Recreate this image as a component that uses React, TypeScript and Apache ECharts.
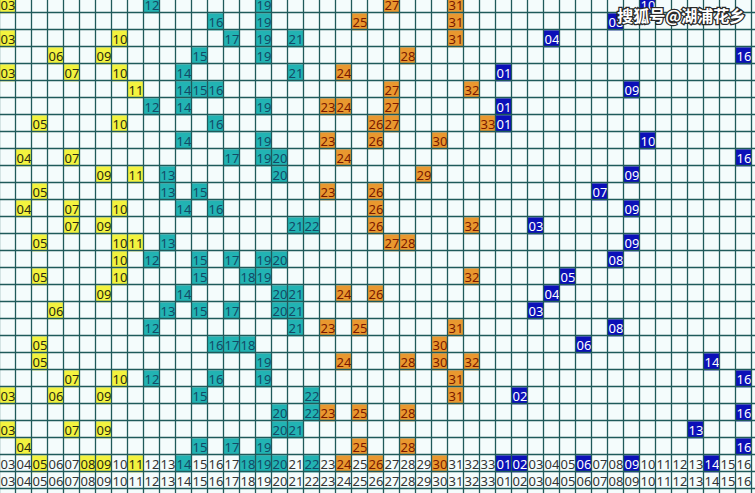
import React, { useEffect, useRef } from 'react';
import * as echarts from 'echarts';

// Column headers: red zone shows 03..33, blue zone 01..16
const redLabels = ['03','04','05','06','07','08','09','10','11','12','13','14','15','16','17','18','19','20','21','22','23','24','25','26','27','28','29','30','31','32','33'];
const blueLabels = ['01','02','03','04','05','06','07','08','09','10','11','12','13','14','15','16'];

// Drawn red numbers per period (rows top to bottom)
const redRows: number[][] = [
  [3, 12, 19, 27, 31],
  [16, 19, 25, 31],
  [3, 10, 17, 19, 21, 31],
  [6, 9, 15, 19, 28],
  [3, 7, 10, 14, 21, 24],
  [11, 14, 15, 16, 27, 32],
  [12, 14, 19, 23, 24, 27],
  [5, 10, 16, 26, 27, 33],
  [14, 19, 23, 26, 30],
  [4, 7, 17, 19, 20, 24],
  [9, 11, 13, 20, 29],
  [5, 13, 15, 23, 26],
  [4, 7, 10, 14, 16, 26],
  [7, 9, 21, 22, 26, 32],
  [5, 10, 11, 13, 27, 28],
  [10, 12, 15, 17, 19, 20],
  [5, 10, 15, 18, 19, 32],
  [9, 14, 20, 21, 24, 26],
  [6, 13, 15, 17, 20, 21],
  [12, 21, 23, 25, 31],
  [5, 16, 17, 18, 30],
  [5, 19, 24, 28, 30, 32],
  [7, 10, 12, 16, 19, 31],
  [3, 6, 9, 15, 22, 31],
  [20, 22, 23, 25, 28],
  [3, 7, 9, 20, 21],
  [4, 15, 17, 19, 25, 28],
];

// Drawn blue number per period
const blueRows: number[] = [10, 8, 4, 16, 1, 9, 1, 1, 10, 16, 9, 7, 9, 3, 9, 8, 5, 4, 3, 8, 6, 14, 16, 2, 16, 13, 16];

// Highlighted picks in the first header row
const pickRed: number[] = [5, 8, 9, 11, 14, 18, 19, 20, 22, 24, 26, 30];
const pickBlue: number[] = [1, 2, 6, 9, 14];

const watermark = '搜狐号@湖浦花乡';

const COLORS: Record<string, { bg: string; fg: string }> = {
  y: { bg: '#f3f33f', fg: '#2a2a10' },
  t: { bg: '#22b3b3', fg: '#134a66' },
  o: { bg: '#e9982f', fg: '#7a1800' },
  b: { bg: '#0c10b8', fg: '#ffffff' },
  p: { bg: 'transparent', fg: '#333333' },
};

function redKind(n: number) {
  return n <= 11 ? 'y' : n <= 22 ? 't' : 'o';
}

type Cell = { col: number; row: number; label: string; kind: string };

function buildCells(): Cell[] {
  const cells: Cell[] = [];
  redRows.forEach((nums, r) => {
    nums.forEach((n) => {
      const col = redLabels.indexOf(String(n).padStart(2, '0'));
      if (col >= 0) cells.push({ col, row: r, label: redLabels[col], kind: redKind(n) });
    });
    const b = blueRows[r];
    const bc = blueLabels.indexOf(String(b).padStart(2, '0'));
    cells.push({ col: redLabels.length + bc, row: r, label: blueLabels[bc], kind: 'b' });
  });
  const hr = redRows.length;
  redLabels.forEach((lab, i) => {
    const n = parseInt(lab, 10);
    cells.push({ col: i, row: hr, label: lab, kind: pickRed.includes(n) ? redKind(n) : 'p' });
    cells.push({ col: i, row: hr + 1, label: lab, kind: 'p' });
  });
  blueLabels.forEach((lab, i) => {
    const n = parseInt(lab, 10);
    const col = redLabels.length + i;
    cells.push({ col, row: hr, label: lab, kind: pickBlue.includes(n) ? 'b' : 'p' });
    cells.push({ col, row: hr + 1, label: lab, kind: 'p' });
  });
  return cells;
}

export default function App() {
  const ref = useRef<HTMLDivElement>(null);
  useEffect(() => {
    if (!ref.current) return;
    const chart = echarts.init(ref.current, null, { renderer: 'svg' });
    const cells = buildCells();
    const nCols = redLabels.length + blueLabels.length;
    const nRows = redRows.length + 3;
    const yMin = 3.7 / 17;
    const yMax = yMin + 493 / 17;
    const xMax = 755 / 16;

    const lineData: number[][] = [];
    for (let c = 0; c <= nCols; c++) lineData.push([0, c]);
    for (let r = 1; r <= nRows; r++) lineData.push([1, r]);

    chart.setOption({
      animation: false,
      backgroundColor: '#f4fcfc',
      grid: { left: 0, right: 0, top: 0, bottom: 0, containLabel: false },
      xAxis: { type: 'value', min: 0, max: xMax, show: false },
      yAxis: { type: 'value', min: yMin, max: yMax, inverse: true, show: false },
      series: [
        {
          type: 'custom',
          z: 2,
          data: cells.map((c) => [c.col, c.row]),
          renderItem: (params: any, api: any) => {
            const cell = cells[params.dataIndex];
            const p0 = api.coord([cell.col, cell.row]);
            const p1 = api.coord([cell.col + 1, cell.row + 1]);
            const col = COLORS[cell.kind];
            const cx = (p0[0] + p1[0]) / 2;
            const cy = (p0[1] + p1[1]) / 2;
            const children: any[] = [];
            if (cell.kind !== 'p') {
              children.push({
                type: 'rect',
                shape: { x: p0[0], y: p0[1], width: p1[0] - p0[0], height: p1[1] - p0[1] },
                style: { fill: col.bg },
              });
            }
            children.push({
              type: 'text',
              x: cx,
              y: cy + 0.5,
              style: {
                text: cell.label,
                fill: col.fg,
                font: '13px "Noto Sans", sans-serif',
                align: 'center',
                verticalAlign: 'middle',
                textAlign: 'center',
                textVerticalAlign: 'middle',
              },
            });
            return { type: 'group', children };
          },
        },
        {
          type: 'custom',
          z: 3,
          data: lineData,
          renderItem: (params: any, api: any) => {
            const d = lineData[params.dataIndex];
            if (d[0] === 0) {
              const a = api.coord([d[1], yMin]);
              const b = api.coord([d[1], yMax]);
              const x = Math.round(a[0]) - 0.5;
              return {
                type: 'line',
                shape: { x1: x, y1: a[1], x2: x, y2: b[1] },
                style: { stroke: '#1f5a5a', lineWidth: 1.3 },
              };
            }
            const a = api.coord([0, d[1]]);
            const b = api.coord([xMax, d[1]]);
            const y = Math.round(a[1]) - 0.5;
            return {
              type: 'line',
              shape: { x1: a[0], y1: y, x2: b[0], y2: y },
              style: { stroke: '#1f5a5a', lineWidth: 1.3 },
            };
          },
        },
      ],
      graphic: [
        {
          type: 'text',
          left: 616,
          top: 6,
          z: 100,
          style: {
            text: watermark,
            fill: '#ffffff',
            stroke: '#2a2a2a',
            lineWidth: 2.5,
            font: 'bold 16px "Noto Sans CJK SC", sans-serif',
          },
        },
      ],
    });
    return () => chart.dispose();
  }, []);
  return <div ref={ref} style={{ position: 'fixed', left: 0, top: 0, width: 755, height: 493 }} />;
}
